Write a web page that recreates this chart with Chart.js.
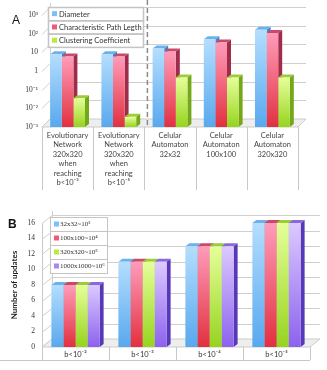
<!DOCTYPE html>
<html>
<head>
<meta charset="utf-8">
<script src="https://cdn.jsdelivr.net/npm/chart.js@4.4.1/dist/chart.umd.min.js"></script>
<style>
    html, body { margin: 0; padding: 0; background: #fff; }
    canvas { position: absolute; left: 0; }
    #chartA { top: 0; }
    #chartB { top: 190px; }
    .panel { position: absolute; font-family: 'Liberation Sans', Arial, sans-serif; color: #111; }
    #labelA { left: 12px; top: 13px; font-size: 12px; }
    #labelB { left: 8px; top: 217px; font-size: 12px; font-weight: bold; }
</style>
</head>
<body>
<canvas id="chartA" width="327" height="190"></canvas>
<canvas id="chartB" width="327" height="180"></canvas>
<div class="panel" id="labelA">A</div>
<div class="panel" id="labelB">B</div>
<script>
// Panel A data
const networkLabels = [
    ['Evolutionary', 'Network', '320x320', 'when', 'reaching', 'b<10⁻³'],
    ['Evolutionary', 'Network', '320x320', 'when', 'reaching', 'b<10⁻⁵'],
    ['Celular', 'Automaton', '32x32'],
    ['Celular', 'Automaton', '100x100'],
    ['Celular', 'Automaton', '320x320']
];
const diameter = [8, 8, 16, 50, 160];
const pathLength = [6, 6, 11, 34, 107];
const clustering = [0.035, 0.0035, 0.45, 0.45, 0.45];
const logTicks = [1e-3, 1e-2, 1e-1, 1, 10, 100, 1000];
const logTickLabels = ['10⁻³', '10⁻²', '10⁻¹', '1', '10', '10²', '10³'];

// Panel B data
const thresholds = ['b<10⁻²', 'b<10⁻³', 'b<10⁻⁴', 'b<10⁻⁵'];
const lattice32 = [8, 11, 13, 16];
const lattice100 = [8, 11, 13, 16];
const lattice320 = [8, 11, 13, 16];
const lattice1000 = [8, 11, 13, 16];

const sansFont = 'Lato, "Liberation Sans", sans-serif';
const serifFont = '"Liberation Serif", serif';

// top / bottom of the front face, side face, cap
const blue = { top: '#b4defe', bottom: '#58a8ee', side: '#3d86cc', cap: '#6eb0ec', key: '#7cc0f6' };
const red = { top: '#ff9cba', bottom: '#e2303f', side: '#9e2c4a', cap: '#c84a68', key: '#f05a78' };
const green = { top: '#e6ff9a', bottom: '#96d41e', side: '#74a818', cap: '#9ccc36', key: '#b8ea40' };
const purple = { top: '#dccafe', bottom: '#8c62ee', side: '#5638b8', cap: '#8868dc', key: '#a888f4' };

function shade(col) {
    return function(c) {
        const ch = c.chart;
        if (!ch.chartArea || c.raw == null) return col.bottom;
        const ys = ch.scales.y;
        const top = ys.getPixelForValue(c.raw);
        const base = ys.getBasePixel();
        if (!isFinite(top) || base - top < 1) return col.bottom;
        const g = ch.ctx.createLinearGradient(0, top, 0, base);
        g.addColorStop(0, col.top);
        g.addColorStop(1, col.bottom);
        return g;
    };
}

function poly(c, pts) {
    c.beginPath();
    c.moveTo(pts[0], pts[1]);
    for (let i = 2; i < pts.length; i += 2) c.lineTo(pts[i], pts[i + 1]);
    c.closePath();
    c.fill();
}

// fake 3D: back wall grid, floor, bar sides and caps
function depthPlugin(opt) {
    return {
        id: 'depth',
        beforeDatasetsDraw(chart) {
            const c = chart.ctx, a = chart.chartArea;
            const ys = chart.scales.y;
            c.save();
            c.strokeStyle = '#cfcfcf';
            c.lineWidth = 1;
            ys.ticks.forEach(t => {
                const py = Math.round(ys.getPixelForValue(t.value)) + 0.5;
                c.beginPath();
                c.moveTo(a.left, py);
                c.lineTo(a.left + opt.wx, py - opt.wy);
                c.lineTo(a.right + opt.wx, py - opt.wy);
                c.stroke();
            });
            c.beginPath();
            c.moveTo(a.left + opt.wx + 0.5, a.top - opt.wy - 4);
            c.lineTo(a.left + opt.wx + 0.5, a.bottom - opt.wy);
            c.stroke();
            c.fillStyle = '#eeeeee';
            c.strokeStyle = '#cccccc';
            c.beginPath();
            c.moveTo(a.left, a.bottom);
            c.lineTo(a.left + opt.wx, a.bottom - opt.wy);
            c.lineTo(a.right + opt.wx, a.bottom - opt.wy);
            c.lineTo(a.right, a.bottom);
            c.closePath();
            c.fill();
            c.stroke();
            chart.data.datasets.forEach((ds, i) => {
                const meta = chart.getDatasetMeta(i);
                meta.data.forEach(bar => {
                    const p = bar.getProps(['x', 'y', 'base', 'width'], true);
                    const l = p.x - p.width / 2, r = p.x + p.width / 2;
                    c.fillStyle = opt.colors[i].side;
                    poly(c, [r, p.y, r + opt.bx, p.y - opt.by, r + opt.bx, p.base - opt.by, r, p.base]);
                    c.fillStyle = opt.colors[i].cap;
                    poly(c, [l, p.y, l + opt.bx, p.y - opt.by, r + opt.bx, p.y - opt.by, r, p.y]);
                });
            });
            c.restore();
        },
        afterDraw(chart) {
            const c = chart.ctx, a = chart.chartArea;
            const xs = chart.scales.x;
            const n = chart.data.labels.length;
            c.save();
            c.strokeStyle = '#c8c8c8';
            c.lineWidth = 1;
            for (let i = 0; i <= n; i++) {
                const px = Math.round(xs.left + i * xs.width / n) + 0.5;
                c.beginPath();
                c.moveTo(px, a.bottom);
                c.lineTo(px, opt.cellBottom);
                c.stroke();
            }
            if (opt.baseLine) {
                c.beginPath();
                c.moveTo(0, opt.cellBottom + 0.5);
                c.lineTo(a.right, opt.cellBottom + 0.5);
                c.stroke();
            }
            if (opt.dashAt != null) {
                const px = xs.left + opt.dashAt * xs.width / n + 3;
                c.strokeStyle = '#8a8a8a';
                c.lineWidth = 1.5;
                c.setLineDash([5, 3]);
                c.beginPath();
                c.moveTo(px, 0);
                c.lineTo(px, a.bottom);
                c.stroke();
                c.setLineDash([]);
            }
            // legend table
            const L = opt.legend;
            c.fillStyle = '#fff';
            c.fillRect(L.x, L.y, L.w, L.row * chart.data.datasets.length);
            c.strokeStyle = '#c4c4c4';
            c.font = L.font;
            c.textBaseline = 'middle';
            chart.data.datasets.forEach((ds, i) => {
                const ry = L.y + i * L.row;
                c.strokeRect(L.x + 0.5, ry + 0.5, L.w, L.row);
                c.fillStyle = opt.colors[i].key;
                c.fillRect(L.x + 4, ry + L.row / 2 - 2.5, 5, 5);
                c.fillStyle = '#333';
                c.fillText(ds.label, L.x + L.text, ry + L.row / 2 + 0.5);
            });
            c.restore();
        }
    };
}

new Chart(document.getElementById('chartA'), {
    type: 'bar',
    data: {
        labels: networkLabels,
        datasets: [
            { label: 'Diameter', data: diameter, backgroundColor: shade(blue) },
            { label: 'Characteristic Path Legth', data: pathLength, backgroundColor: shade(red) },
            { label: 'Clustering Coefficient', data: clustering, backgroundColor: shade(green) }
        ]
    },
    options: {
        responsive: false,
        animation: false,
        datasets: { bar: { categoryPercentage: 0.68, barPercentage: 1.0 } },
        layout: { padding: { top: 15, right: 29, left: 0, bottom: 0 } },
        plugins: { legend: { display: false }, tooltip: { enabled: false } },
        scales: {
            x: {
                grid: { display: false, drawTicks: false },
                border: { display: false },
                ticks: {
                    autoSkip: false, maxRotation: 0, padding: 4, color: '#444',
                    font: { family: sansFont, size: 7.5, lineHeight: 1.25 }
                },
                afterFit: s => { s.height = 63; }
            },
            y: {
                type: 'logarithmic',
                min: 1e-3,
                max: 1e3,
                grid: { display: false, drawTicks: false },
                border: { display: false },
                afterBuildTicks: s => { s.ticks = logTicks.map(v => ({ value: v })); },
                ticks: {
                    padding: 4, color: '#333',
                    font: { family: serifFont, size: 7.5 },
                    callback: (v, i) => logTickLabels[i]
                },
                afterFit: s => { s.width = 42; }
            }
        }
    },
    plugins: [depthPlugin({
        wx: 8, wy: 8, bx: 4, by: 3,
        colors: [blue, red, green],
        cellBottom: 190,
        dashAt: 2,
        legend: { x: 48, y: 7, w: 95, row: 13.3, text: 11, font: '7.5px ' + sansFont }
    })]
});

new Chart(document.getElementById('chartB'), {
    type: 'bar',
    data: {
        labels: thresholds,
        datasets: [
            { label: '32x32~10³', data: lattice32, backgroundColor: shade(blue) },
            { label: '100x100~10⁴', data: lattice100, backgroundColor: shade(red) },
            { label: '320x320~10⁵', data: lattice320, backgroundColor: shade(green) },
            { label: '1000x1000~10⁶', data: lattice1000, backgroundColor: shade(purple) }
        ]
    },
    options: {
        responsive: false,
        animation: false,
        datasets: { bar: { categoryPercentage: 0.72, barPercentage: 1.0 } },
        layout: { padding: { top: 33, right: 17, left: 0, bottom: 0 } },
        plugins: { legend: { display: false }, tooltip: { enabled: false } },
        scales: {
            x: {
                grid: { display: false, drawTicks: false },
                border: { display: false },
                ticks: {
                    maxRotation: 0, padding: 3, color: '#333',
                    font: { family: sansFont, size: 7.5 }
                },
                afterFit: s => { s.height = 23; }
            },
            y: {
                min: 0,
                max: 16,
                grid: { display: false, drawTicks: false },
                border: { display: true, color: '#c8c8c8' },
                ticks: {
                    stepSize: 2, padding: 7, color: '#333',
                    font: { family: serifFont, size: 7.5 }
                },
                title: {
                    display: true,
                    text: 'Number of updates',
                    color: '#222',
                    padding: { top: 10, bottom: 0 },
                    font: { family: sansFont, size: 8, weight: 'bold' }
                },
                afterFit: s => { s.width = 42; }
            }
        }
    },
    plugins: [depthPlugin({
        wx: 10, wy: 8, bx: 4, by: 3,
        colors: [blue, red, green, purple],
        cellBottom: 170,
        baseLine: true,
        dashAt: null,
        legend: { x: 50, y: 27, w: 57, row: 14, text: 10, font: '7px ' + serifFont }
    })]
});
</script>
</body>
</html>
